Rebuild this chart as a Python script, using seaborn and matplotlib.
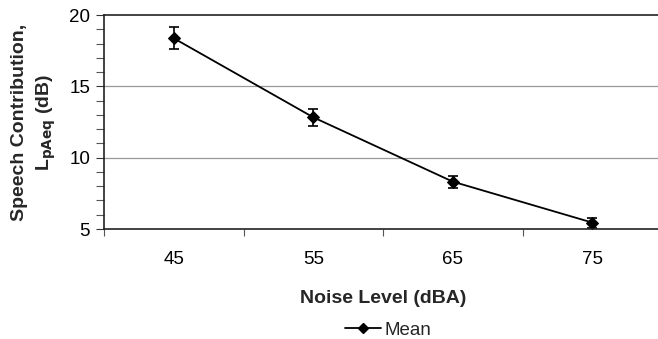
import matplotlib
matplotlib.use("Agg")
import matplotlib.pyplot as plt
import seaborn as sns
import numpy as np
import pandas as pd
from matplotlib.ticker import MultipleLocator, FixedLocator
from matplotlib.lines import Line2D

noise_levels = ["45", "55", "65", "75"]
mean_values = [18.37, 12.83, 8.32, 5.45]
error_values = [0.77, 0.60, 0.42, 0.35]

sns.set_theme(style="white")
plt.rcParams['font.family'] = ['Liberation Sans', 'DejaVu Sans']

fig = plt.figure(figsize=(6.58, 3.39), dpi=100)
ax = fig.add_axes([104/658, 1-229/339, 558/658, 214/339])

pos = np.arange(len(noise_levels))
df = pd.DataFrame({"pos": pos, "mean": mean_values})
sns.lineplot(data=df, x="pos", y="mean", ax=ax, color="black", marker="D",
             markersize=6, linewidth=1.3, markeredgecolor="black", legend=False)
ax.errorbar(pos, mean_values, yerr=error_values, fmt="none", ecolor="black",
            elinewidth=1.2, capsize=3.5, capthick=1.2)

ax.set_xlim(-0.5, 3.5)
ax.set_ylim(5, 20)
ax.yaxis.set_major_locator(FixedLocator([5, 10, 15, 20]))
ax.yaxis.set_minor_locator(MultipleLocator(1))
ax.xaxis.set_major_locator(FixedLocator([-0.5, 0.5, 1.5, 2.5, 3.5]))
ax.xaxis.set_minor_locator(FixedLocator(pos))
ax.set_xticklabels([])
ax.xaxis.set_ticklabels(noise_levels, minor=True)
ax.tick_params(axis="x", which="major", length=5, color="#555555", width=0.8, direction="out", bottom=True)
ax.tick_params(axis="x", which="minor", length=0, labelsize=13.5, pad=16, labelcolor="black")
ax.tick_params(axis="y", which="major", length=6, color="#333333", width=0.8, direction="out", left=True,
               labelsize=13.5, labelcolor="black", pad=4)
ax.tick_params(axis="y", which="minor", length=6, color="#555555", width=0.8, direction="out", left=True)

for y in [10, 15]:
    ax.axhline(y, color="#999999", linewidth=0.9, zorder=0)

for s in ["left", "bottom", "top"]:
    ax.spines[s].set_visible(True)
    ax.spines[s].set_color("#222222")
    ax.spines[s].set_linewidth(1.2)
ax.spines["right"].set_visible(False)

ax.set_xlabel("Noise Level (dBA)", fontsize=14, fontweight="bold", labelpad=16)
ax.set_ylabel("Speech Contribution,\nL$_{\\mathbf{pAeq}}$ (dB)", fontsize=14, fontweight="bold", labelpad=8,
              linespacing=1.4)

handle = Line2D([], [], color="black", marker="D", markersize=5, linewidth=1.3)
fig.legend([handle], ["Mean"], loc="center", bbox_to_anchor=(388/658, 1-330/339),
           frameon=False, fontsize=13.5, handlelength=1.9, handletextpad=0.2)

fig.savefig("out.png", dpi=100)
